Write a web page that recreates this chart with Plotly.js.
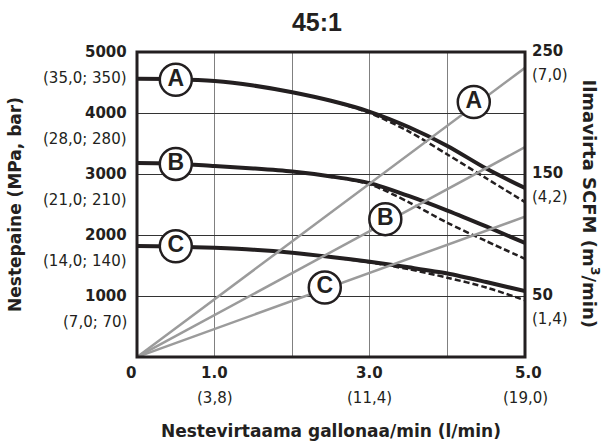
<!DOCTYPE html>
<html><head><meta charset="utf-8">
<script src="https://cdn.plot.ly/plotly-3.0.1.min.js"></script>
<style>html,body{margin:0;padding:0;background:#fff}#chart{width:607px;height:441px}</style>
</head><body><div id="chart"></div>
<script>
// Fluid flow (gallons/min)
const flowGpm = [0, 0.5, 1, 1.5, 2, 2.5, 3, 3.5, 4, 4.5, 5];
// Fluid pressure curves (psi), solid
const pressureA = [4560, 4555, 4525, 4450, 4340, 4200, 4020, 3770, 3460, 3090, 2770];
const pressureB = [3180, 3170, 3130, 3090, 3040, 2960, 2850, 2640, 2400, 2140, 1870];
const pressureC = [1820, 1810, 1790, 1760, 1710, 1640, 1560, 1470, 1370, 1230, 1080];
// Dashed variants
const flowDashed = [2.5, 3, 3.5, 4, 4.5, 5];
const pressureADashed = [4200, 4000, 3700, 3320, 2930, 2540];
const pressureBDashed = [2960, 2830, 2540, 2200, 1900, 1610];
const pressureCDashed = [1640, 1550, 1440, 1300, 1140, 930];
// Air flow lines (SCFM)
const airFlowX = [0, 5];
const airA = [0, 237];
const airB = [0, 172];
const airC = [0, 115];
// Curve labels
const curveLabels = ['A', 'B', 'C'];
const curveLabelX = [0.5, 0.5, 0.5];
const curveLabelY = [4545, 3165, 1815];
const airLabelX = [4.34, 3.20, 2.42];
const airLabelY = [209, 113, 57];
// Tick labels
const pressureTicks = [1000, 2000, 3000, 4000, 5000];
const pressureSub = ['(7,0; 70)', '(14,0; 140)', '(21,0; 210)', '(28,0; 280)', '(35,0; 350)'];
const airTicks = [50, 150, 250];
const airSub = ['(1,4)', '(4,2)', '(7,0)'];
const flowTicks = [0, 1, 3, 5];
const flowTickText = ['0', '1.0', '3.0', '5.0'];
const flowSub = ['', '(3,8)', '(11,4)', '(19,0)'];

const FONT = 'DejaVu Sans, Arial, sans-serif';
const INK = '#231f20';
const GRAY = '#9b9b9b';

const traces = [];
function solid(y) {
  return {x: flowGpm, y: y, type: 'scatter', mode: 'lines', xaxis: 'x', yaxis: 'y',
    line: {color: INK, width: 4, shape: 'spline', smoothing: 0.8}, hoverinfo: 'skip', showlegend: false};
}
function dashed(y) {
  return {x: flowDashed, y: y, type: 'scatter', mode: 'lines', xaxis: 'x', yaxis: 'y',
    line: {color: INK, width: 2.5, dash: '6px,3px', shape: 'spline', smoothing: 0.8}, hoverinfo: 'skip', showlegend: false};
}
function air(y) {
  return {x: airFlowX, y: y, type: 'scatter', mode: 'lines', xaxis: 'x', yaxis: 'y2',
    line: {color: GRAY, width: 2.5}, hoverinfo: 'skip', showlegend: false};
}
traces.push(dashed(pressureADashed), dashed(pressureBDashed), dashed(pressureCDashed));
traces.push(solid(pressureA), solid(pressureB), solid(pressureC));
traces.push(air(airA), air(airB), air(airC));
const markerStyle = {symbol: 'circle', size: 32, color: '#fff', line: {color: INK, width: 2.5}};
const labelFont = {family: 'Liberation Sans, Arial, sans-serif', size: 23, color: INK, weight: 'bold'};
traces.push({x: curveLabelX, y: curveLabelY, text: curveLabels.map(t => '<b>' + t + '</b>'), type: 'scatter',
  mode: 'markers+text', textposition: 'middle center', marker: markerStyle, textfont: labelFont,
  xaxis: 'x', yaxis: 'y', hoverinfo: 'skip', showlegend: false, cliponaxis: false});
traces.push({x: airLabelX, y: airLabelY, text: curveLabels.map(t => '<b>' + t + '</b>'), type: 'scatter',
  mode: 'markers+text', textposition: 'middle center', marker: markerStyle, textfont: labelFont,
  xaxis: 'x', yaxis: 'y2', hoverinfo: 'skip', showlegend: false, cliponaxis: false});

const annotations = [];
const boldF = {family: FONT, size: 15, color: INK};
const regF = {family: FONT, size: 15, color: INK};
pressureTicks.forEach((v, i) => {
  annotations.push({xref: 'paper', yref: 'y', x: 0, y: v, xanchor: 'right', yanchor: 'middle', xshift: -8,
    text: '<b>' + v + '</b>', showarrow: false, font: boldF});
  annotations.push({xref: 'paper', yref: 'y', x: 0, y: v, xanchor: 'right', yanchor: 'middle', xshift: -8, yshift: -26,
    text: pressureSub[i], showarrow: false, font: regF});
});
airTicks.forEach((v, i) => {
  annotations.push({xref: 'paper', yref: 'y2', x: 1, y: v, xanchor: 'left', yanchor: 'middle', xshift: 5, yshift: 1,
    text: '<b>' + v + '</b>', showarrow: false, font: boldF});
  annotations.push({xref: 'paper', yref: 'y2', x: 1, y: v, xanchor: 'left', yanchor: 'middle', xshift: 5, yshift: -23,
    text: airSub[i], showarrow: false, font: regF});
});
flowTicks.forEach((v, i) => {
  annotations.push({xref: 'x', yref: 'paper', x: v, y: 0, xanchor: 'center', yanchor: 'middle', yshift: -16,
    xshift: v === 0 ? -6 : (v === 5 ? 3 : 0),
    text: '<b>' + flowTickText[i] + '</b>', showarrow: false, font: boldF});
  if (flowSub[i]) annotations.push({xref: 'x', yref: 'paper', x: v, y: 0, xanchor: 'center', yanchor: 'middle', yshift: -41,
    text: flowSub[i], showarrow: false, font: regF});
});
annotations.push({xref: 'paper', yref: 'paper', x: 1, y: 0.5, xanchor: 'center', yanchor: 'middle', xshift: 66, yshift: 1,
  textangle: 90, text: '<b>Ilmavirta SCFM (m<sup>3</sup>/min)</b>', showarrow: false, font: {family: FONT, size: 18, color: INK}});

const layout = {
  width: 607, height: 441,
  margin: {l: 137, r: 82, t: 52, b: 84},
  paper_bgcolor: '#fff', plot_bgcolor: '#fff',
  title: {text: '<b>45:1</b>', x: 317 / 607, xanchor: 'center', y: 1 - 22 / 441, yanchor: 'middle',
    font: {family: 'Liberation Sans, Arial, sans-serif', size: 25, color: INK}},
  xaxis: {range: [0, 5], dtick: 1, tick0: 0, showgrid: true, gridcolor: '#808080', gridwidth: 1,
    zeroline: false, showticklabels: false, ticks: '', showline: false, fixedrange: true,
    title: {text: '<b>Nestevirtaama gallonaa/min (l/min)</b>', standoff: 70, font: {family: FONT, size: 17, color: INK}}},
  yaxis: {range: [0, 5000], dtick: 1000, tick0: 0, showgrid: true, gridcolor: '#333', gridwidth: 1,
    zeroline: false, showticklabels: false, ticks: '', showline: false, fixedrange: true,
    title: {text: '<b>Nestepaine (MPa, bar)</b>', standoff: 110, font: {family: FONT, size: 17, color: INK}}},
  yaxis2: {range: [0, 250], overlaying: 'y', side: 'right', showgrid: false, zeroline: false,
    showticklabels: false, ticks: '', showline: false, fixedrange: true},
  shapes: [{type: 'rect', xref: 'paper', yref: 'paper', x0: 0, x1: 1, y0: 0, y1: 1,
    line: {color: INK, width: 3}, layer: 'above'}],
  annotations: annotations,
  showlegend: false
};
Plotly.newPlot('chart', traces, layout, {displayModeBar: false, staticPlot: true});
</script></body></html>
